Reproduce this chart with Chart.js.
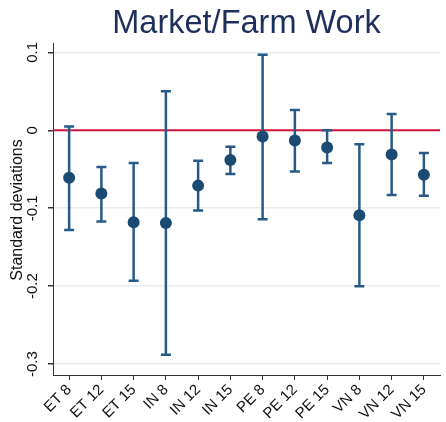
<!DOCTYPE html>
<html>
<head>
<meta charset="utf-8">
<script src="https://cdn.jsdelivr.net/npm/chart.js@4"></script>
<style>
	html, body { margin: 0; padding: 0; background: #fff; }
</style>
</head>
<body>
<canvas id="myChart" width="446" height="422"></canvas>
<script>
const categories = ["ET 8", "ET 12", "ET 15", "IN 8", "IN 12", "IN 15", "PE 8", "PE 12", "PE 15", "VN 8", "VN 12", "VN 15"];
const estimates = [-0.061, -0.081, -0.118, -0.119, -0.071, -0.038, -0.008, -0.013, -0.022, -0.109, -0.031, -0.057];
const upperCI = [0.005, -0.047, -0.042, 0.050, -0.039, -0.021, 0.097, 0.026, 0.000, -0.018, 0.021, -0.029];
const lowerCI = [-0.128, -0.117, -0.193, -0.288, -0.103, -0.056, -0.114, -0.053, -0.042, -0.200, -0.083, -0.084];
const yTicks = [0.1, 0, -0.1, -0.2, -0.3];
const yTickLabels = ["0.1", "0", "-0.1", "-0.2", "-0.3"];

const FONT = "'Liberation Sans', Arial, sans-serif";

// error bars, zero line, title and rotated y labels
const extras = {
	id: "extras",
	beforeDatasetsDraw(chart) {
		const c = chart.ctx;
		const x = chart.scales.x;
		const y = chart.scales.y;
		const area = chart.chartArea;

		// red reference line at zero
		c.save();
		c.strokeStyle = "#d4163f";
		c.lineWidth = 2;
		c.beginPath();
		c.moveTo(area.left, y.getPixelForValue(0));
		c.lineTo(area.right, y.getPixelForValue(0));
		c.stroke();

		// confidence intervals
		c.strokeStyle = "#275a86";
		c.lineWidth = 2.5;
		for (let i = 0; i < categories.length; i++) {
			const px = x.getPixelForValue(i);
			const top = y.getPixelForValue(upperCI[i]);
			const bot = y.getPixelForValue(lowerCI[i]);
			c.beginPath();
			c.moveTo(px, top);
			c.lineTo(px, bot);
			c.moveTo(px - 5, top);
			c.lineTo(px + 5, top);
			c.moveTo(px - 5, bot);
			c.lineTo(px + 5, bot);
			c.stroke();
		}
		c.restore();
	},
	afterDraw(chart) {
		const c = chart.ctx;
		const y = chart.scales.y;
		const area = chart.chartArea;
		c.save();

		c.fillStyle = "#1f2f5c";
		c.font = "32.5px " + FONT;
		c.textAlign = "center";
		c.textBaseline = "alphabetic";
		c.fillText("Market/Farm Work", (area.left + area.right) / 2, 33);

		c.fillStyle = "#111";
		c.font = "15px " + FONT;
		c.textBaseline = "middle";
		for (let i = 0; i < yTicks.length; i++) {
			c.save();
			c.translate(33, y.getPixelForValue(yTicks[i]));
			c.rotate(-Math.PI / 2);
			c.fillText(yTickLabels[i], 0, 0);
			c.restore();
		}

		c.font = "16px " + FONT;
		c.save();
		c.translate(18, 210);
		c.rotate(-Math.PI / 2);
		c.fillText("Standard deviations", 0, 0);
		c.restore();

		c.restore();
	}
};

const ctx = document.getElementById("myChart");

let grafico = new Chart(ctx, {
	type: "line",
	data: {
		labels: categories,
		datasets: [
			{
				label: "Estimate",
				data: estimates,
				showLine: false,
				pointRadius: 6,
				pointHoverRadius: 6,
				pointBackgroundColor: "#1b4a73",
				pointBorderColor: "#1b4a73",
				pointBorderWidth: 0,
			},
		],
	},
	options: {
		responsive: false,
		animation: false,
		layout: {
			padding: { top: 43, right: 3, left: 0, bottom: 0 },
		},
		plugins: {
			legend: { display: false },
			title: { display: false },
			tooltip: { enabled: false },
		},
		scales: {
			x: {
				type: "category",
				offset: true,
				afterFit: (s) => { s.height = 47; },
				grid: {
					color: "rgba(0,0,0,0)",
					tickColor: "#333",
					tickLength: 5,
					offset: false,
				},
				border: { color: "#333", width: 1 },
				ticks: {
					color: "#111",
					font: { size: 15, family: FONT },
					minRotation: 45,
					maxRotation: 45,
					padding: 1,
					autoSkip: false,
				},
			},
			y: {
				min: -0.314,
				max: 0.112,
				afterFit: (s) => { s.width = 53; },
				afterBuildTicks: (s) => { s.ticks = yTicks.map((v) => ({ value: v })); },
				grid: {
					color: "#e7eef3",
					tickColor: "#333",
					tickLength: 5,
					lineWidth: 1.5,
				},
				border: { color: "#333", width: 1 },
				ticks: { display: false },
			},
		},
	},
	plugins: [extras],
});
</script>
</body>
</html>
